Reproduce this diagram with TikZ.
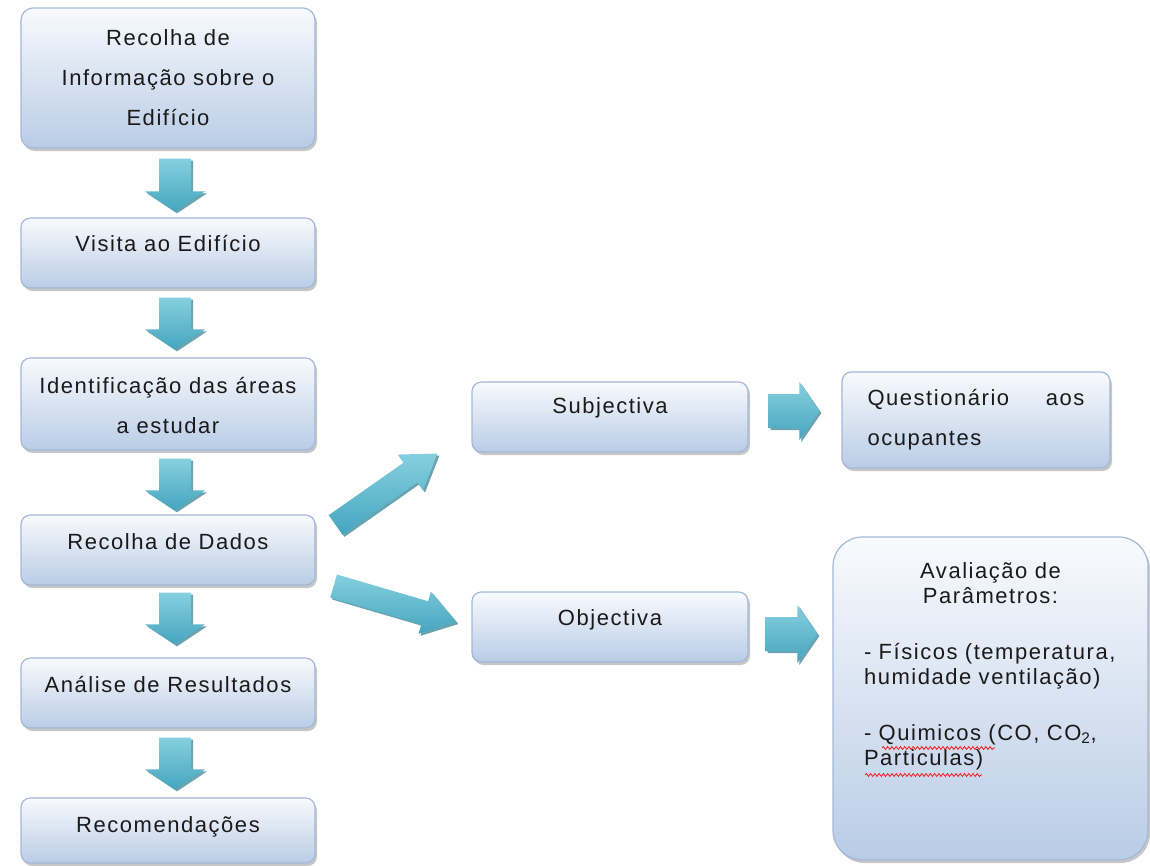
\documentclass[tikz,border=0pt]{standalone}
\usepackage{fontspec}
\setmainfont{Liberation Sans}[LetterSpace=7]
\usetikzlibrary{calc,shadows,decorations.pathmorphing}
\definecolor{boxtop}{HTML}{F8FAFD}
\definecolor{boxbot}{HTML}{B9CCE6}
\definecolor{boxline}{HTML}{A3B8D8}
\definecolor{arrlight}{HTML}{86CFDF}
\definecolor{arrdark}{HTML}{45A6BF}
\definecolor{arrshadow}{HTML}{2D7C90}
\definecolor{txt}{HTML}{1A1A1A}
\tikzset{
  box/.style={draw=boxline, line width=0.9pt, top color=boxtop, bottom color=boxbot,
    rounded corners=7pt, inner xsep=0pt, inner ysep=0pt, align=center, text=txt,
    font=\fontsize{16.5}{30}\selectfont,
    drop shadow={shadow xshift=1.5pt, shadow yshift=-2.25pt, fill=black, opacity=0.22}},
  arrowfill/.style={top color=arrlight, bottom color=arrdark, draw=none,
    drop shadow={shadow xshift=1.5pt, shadow yshift=-1.5pt, fill=arrshadow, opacity=0.7}},
  squiggle/.style={draw=red, line width=0.5pt, decorate,
    decoration={snake, amplitude=1.1pt, segment length=3.2pt}}
}
% #1 tail coordinate, #2 tip coordinate, #3 half shaft, #4 half head, #5 head length
\newcommand\blockarrow[5]{%
  \coordinate (ba-h) at ($(#2)!#5!(#1)$);
  \path[arrowfill] ($(#1)!#3!90:(#2)$) -- ($(ba-h)!#3!90:(#2)$) -- ($(ba-h)!#4!90:(#2)$)
    -- (#2) -- ($(ba-h)!#4!-90:(#2)$) -- ($(ba-h)!#3!-90:(#2)$) -- ($(#1)!#3!-90:(#2)$) -- cycle;}
\begin{document}
\begin{tikzpicture}[x=0.75pt,y=-0.75pt]
\fill[white] (0,0) rectangle (1150,865);
\useasboundingbox (0,0) rectangle (1150,865);

% left column
\node[box, rounded corners=9pt, minimum width=220.5pt, minimum height=105pt, text height=87.75pt, text depth=17.25pt]
  (b1) at (168,78) {Recolha de\\Informação sobre o\\Edifício};
\node[box, minimum width=220.5pt, minimum height=52.5pt, text height=24.75pt, text depth=27.75pt]
  (b2) at (168,253) {Visita ao Edifício};
\node[box, minimum width=220.5pt, minimum height=69pt, text height=56.25pt, text depth=12.75pt]
  (b3) at (168,404) {Identificação das áreas\\a estudar};
\node[box, minimum width=220.5pt, minimum height=52.5pt, text height=25.5pt, text depth=27pt]
  (b4) at (168,550) {Recolha de Dados};
\node[box, minimum width=220.5pt, minimum height=52.5pt, text height=25.5pt, text depth=27pt]
  (b5) at (168,693) {Análise de Resultados};
\node[box, minimum width=220.5pt, minimum height=48.75pt, text height=25.5pt, text depth=23.25pt]
  (b6) at (168,830.5) {Recomendações};

% middle column
\node[box, minimum width=207pt, minimum height=52.5pt, text height=23.25pt, text depth=29.25pt]
  (sub) at (610,417) {Subjectiva};
\node[box, minimum width=207pt, minimum height=52.5pt, text height=24.75pt, text depth=27.75pt]
  (obj) at (610,627) {Objectiva};

% right column
\node[box, align=left, text width=162.75pt, minimum width=201pt, minimum height=72pt, text height=24.75pt, text depth=47.25pt]
  (que) at (976,420) {Questionário\hfill aos\\ocupantes};
\node[box, rounded corners=22pt, align=left, text width=189.75pt, minimum width=236.25pt, minimum height=242.25pt,
  text height=30.75pt, text depth=211.5pt, font=\fontsize{16.5}{18.75}\selectfont]
  (ava) at (990.5,698.5) {\centering Avaliação de\\Parâmetros:\par
  \raggedright\vspace{23.25pt}- Físicos (temperatura,\\humidade ventilação)\par
  \vspace{23.25pt}- Quimicos (CO, CO\textsubscript{2},\\Particulas)};

% spell-check squiggles
\draw[squiggle] (882,748) -- (995,748);
\draw[squiggle] (865,775) -- (982,775);

% vertical arrows
\coordinate (a1s) at ($(b1.south)+(7,10)$);  \coordinate (a1e) at ($(b2.north)+(7,-6)$);
\coordinate (a2s) at ($(b2.south)+(7,9)$);   \coordinate (a2e) at ($(b3.north)+(7,-8)$);
\coordinate (a3s) at ($(b3.south)+(7,8)$);   \coordinate (a3e) at ($(b4.north)+(7,-4)$);
\coordinate (a4s) at ($(b4.south)+(7,7)$);   \coordinate (a4e) at ($(b5.north)+(7,-13)$);
\coordinate (a5s) at ($(b5.south)+(7,9)$);   \coordinate (a5e) at ($(b6.north)+(7,-8)$);
\blockarrow{a1s}{a1e}{12pt}{22.5pt}{15pt}
\blockarrow{a2s}{a2e}{12pt}{22.5pt}{15pt}
\blockarrow{a3s}{a3e}{12pt}{22.5pt}{15pt}
\blockarrow{a4s}{a4e}{12pt}{22.5pt}{15pt}
\blockarrow{a5s}{a5e}{12pt}{22.5pt}{15pt}

% diagonal arrows
\coordinate (dus) at ($(b4.east)+(20,-25)$); \coordinate (due) at ($(sub.south west)+(-34,1)$);
\coordinate (dds) at ($(b4.east)+(18,36)$);  \coordinate (dde) at ($(obj.west)+(-15,-5)$);
\blockarrow{dus}{due}{9pt}{16.5pt}{24.75pt}
\blockarrow{dds}{dde}{9pt}{16.5pt}{24.75pt}

% right arrows
\coordinate (r1s) at ($(sub.east)+(20,-6)$); \coordinate (r1e) at ($(que.west)+(-22,-9)$);
\coordinate (r2s) at ($(obj.east)+(17,7)$);  \coordinate (r2e) at ($(ava.west)+(-15,-64.5)$);
\blockarrow{r1s}{r1e}{12.75pt}{21.75pt}{15pt}
\blockarrow{r2s}{r2e}{12.75pt}{21.75pt}{15pt}
\end{tikzpicture}
\end{document}
